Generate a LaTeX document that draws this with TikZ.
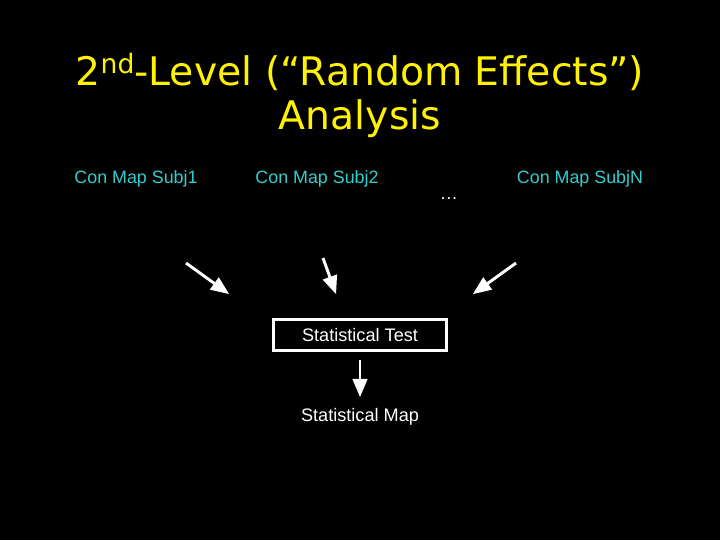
\documentclass[tikz,border=0pt]{standalone}
\usepackage{fontspec}
\setmainfont{Liberation Sans}
\newfontfamily\titlefont{DejaVu Sans}
\usetikzlibrary{arrows,calc}

\begin{document}
\begin{tikzpicture}[x=0.75pt,y=-0.75pt]
			\definecolor{subjcyan}{RGB}{51,204,204}
			\tikzstyle{title}=[text=yellow, font=\titlefont\fontsize{29.5}{36}\selectfont, inner sep=0pt]
			\tikzstyle{subj}=[text=subjcyan, font=\fontsize{13.4}{16}\selectfont, inner sep=0pt]
			\tikzstyle{plain}=[text=white, font=\fontsize{13.6}{16}\selectfont, inner sep=0pt]
			\tikzstyle{testbox}=[draw=white, line width=2.3pt, minimum width=130pt, minimum height=23.3pt]
			\tikzstyle{arr}=[draw=white, line width=2.2pt, -triangle 45]
			\fill[black] (0,0) rectangle (720,540);
			\node[title] (t1) at (360,72) {2\raisebox{0.55ex}{\fontsize{20}{24}\selectfont nd}-Level (“Random Effects”)};
			\node[title] (t2) at (360,119) {Analysis};
			\node[subj] (s1) at (136,179) {Con Map Subj1};
			\node[subj] (s2) at (317,179) {Con Map Subj2};
			\node[subj] (sn) at (580,179) {Con Map SubjN};
			\node[plain] (dots) at (449,199) {\ldots};
			\node[plain, testbox] (test) at (360,335) {Statistical Test};
			\node[plain] (map) at (360,417) {Statistical Map};
			\coordinate (a1) at (186,263); \coordinate (b1) at (229,294);
			\coordinate (a2) at (323,258); \coordinate (b2) at (336,294);
			\coordinate (a3) at (516,263); \coordinate (b3) at (473,294);
			\coordinate (a4) at (360,360); \coordinate (b4) at (360,397);
			\draw[arr] (a1) -- (b1);
			\draw[arr] (a2) -- (b2);
			\draw[arr] (a3) -- (b3);
			\draw[arr] (a4) -- (b4);
		\end{tikzpicture}
\end{document}
